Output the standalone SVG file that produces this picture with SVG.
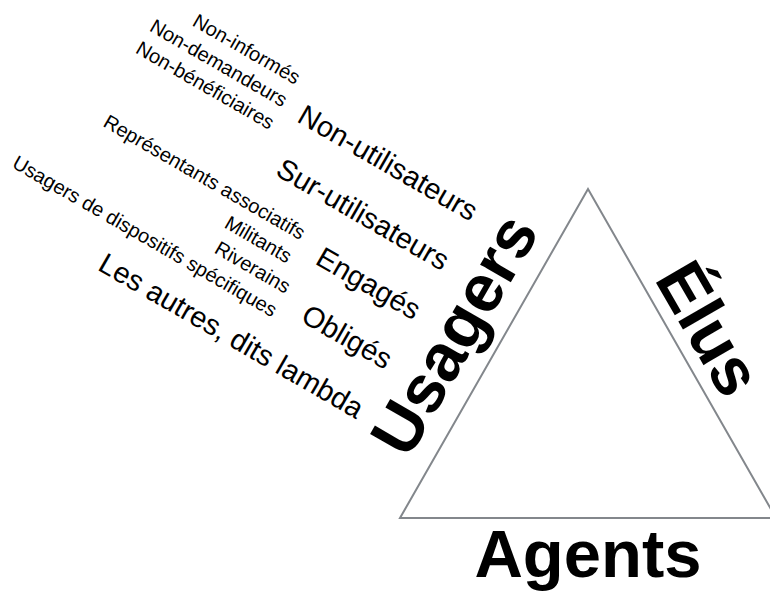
<svg xmlns="http://www.w3.org/2000/svg" width="770" height="592" viewBox="0 0 770 592">
<style>
text{font-family:"Liberation Sans",Arial,Helvetica,sans-serif;fill:#000}
.s{font-size:20px;text-anchor:end}
.m{font-size:29px;text-anchor:end}
.b{font-size:67px;font-weight:bold;text-anchor:middle}
</style>
<rect width="770" height="592" fill="#fff"/>
<g id="triangle">
<polygon points="588,189 400,518 776,518" fill="none" stroke="#83878c" stroke-width="2"/>
</g>
<g id="connectors"/>
<g id="label-usagers"><text class="b" transform="translate(474,346) rotate(-60)">Usagers</text></g>
<g id="label-elus"><text class="b" transform="translate(689,340) rotate(60)">Élus</text></g>
<g id="label-agents"><text class="b" x="588" y="577">Agents</text></g>
<g id="categories" transform="translate(-1,4) rotate(30)">
<g id="non-utilisateurs">
<text class="s" x="297" y="-78">Non-informés</text>
<text class="s" x="297" y="-52">Non-demandeurs</text>
<text class="s" x="297" y="-26">Non-bénéficiaires</text>
<text class="m" x="517" y="-47">Non-utilisateurs</text>
</g>
<g id="sur-utilisateurs"><text class="m" x="517" y="10">Sur-utilisateurs</text></g>
<g id="engages">
<text class="s" x="379" y="54">Représentants associatifs</text>
<text class="s" x="379" y="81">Militants</text>
<text class="m" x="517" y="67">Engagés</text>
</g>
<g id="obliges">
<text class="s" x="393" y="108">Riverains</text>
<text class="s" x="393" y="135">Usagers de dispositifs spécifiques</text>
<text class="m" x="517" y="124">Obligés</text>
</g>
<g id="lambda"><text class="m" x="517" y="181">Les autres, dits lambda</text></g>
</g>
</svg>
